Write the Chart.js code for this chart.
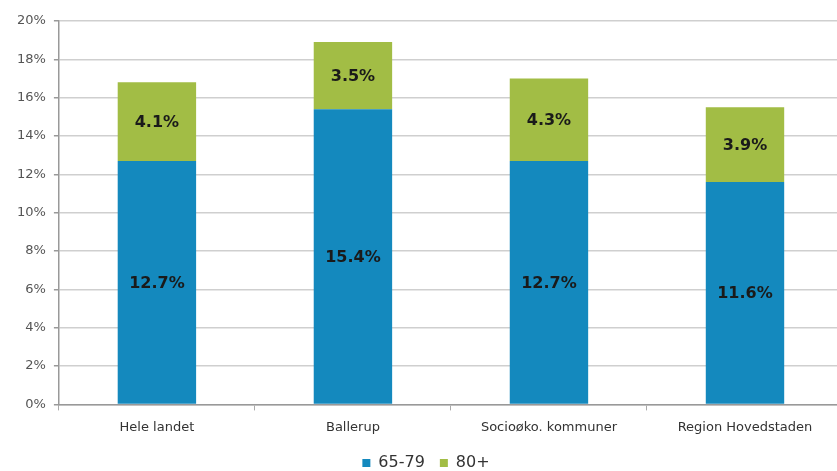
<!DOCTYPE html>
<html>
<head>
<meta charset="utf-8">
<script src="https://cdn.jsdelivr.net/npm/chart.js@4/dist/chart.umd.min.js"></script>
<style>
  html, body { margin:0; padding:0; background:#fff; overflow:hidden; }
  #wrap { width:843px; height:471px; position:relative; }
</style>
</head>
<body>
<div id="wrap"><canvas id="c"></canvas></div>
<script>
const categories = ["Hele landet", "Ballerup", "Socioøko. kommuner", "Region Hovedstaden"];
const series6579 = [12.7, 15.4, 12.7, 11.6];
const series80 = [4.1, 3.5, 4.3, 3.9];
const seriesNames = ["65-79", "80+"];
const seriesColors = ["#1489be", "#a2bd45"];
const yTicks = [0, 2, 4, 6, 8, 10, 12, 14, 16, 18, 20];

const FONT = "'DejaVu Sans', sans-serif";

const labelPlugin = {
  id: 'barLabels',
  afterDatasetsDraw(chart) {
    const ctx = chart.ctx;
    ctx.save();
    ctx.font = "bold 16px 'DejaVu Sans', sans-serif";
    ctx.fillStyle = "#1a1a1a";
    ctx.textAlign = "center";
    ctx.textBaseline = "middle";
    chart.data.datasets.forEach((ds, di) => {
      const meta = chart.getDatasetMeta(di);
      meta.data.forEach((bar, i) => {
        const yMid = (bar.y + bar.base) / 2;
        ctx.fillText(ds.data[i].toFixed(1) + "%", bar.x, yMid + 1.5);
      });
    });
    ctx.restore();
  }
};

const legendShift = {
  id: 'legendShift',
  beforeInit(chart) {
    const lg = chart.legend;
    if (lg && !lg._patched) {
      const f = lg.fit;
      lg.fit = function () { f.call(this); this.height -= 10; };
      lg._patched = true;
    }
  }
};

new Chart(document.getElementById('c'), {
  type: 'bar',
  data: {
    labels: categories,
    datasets: [
      { label: seriesNames[0], data: series6579, backgroundColor: seriesColors[0], barPercentage: 0.4, categoryPercentage: 1.0 },
      { label: seriesNames[1], data: series80, backgroundColor: seriesColors[1], barPercentage: 0.4, categoryPercentage: 1.0 }
    ]
  },
  options: {
    responsive: true,
    maintainAspectRatio: false,
    animation: false,
    layout: { padding: { top: 21, left: 9, right: 0, bottom: 0 } },
    plugins: {
      legend: {
        position: 'bottom',
        labels: {
          font: { family: FONT, size: 16 },
          color: '#333',
          boxWidth: 8,
          boxHeight: 8,
          padding: 15
        }
      },
      tooltip: { enabled: false }
    },
    scales: {
      x: {
        stacked: true,
        grid: { display: true, offset: true, drawOnChartArea: false, color: '#aaa', tickLength: 6 },
        border: { color: '#999', width: 1.5 },
        ticks: { font: { family: FONT, size: 13 }, color: '#333', padding: 9 },
        afterFit: (scale) => { scale.height -= 4; }
      },
      y: {
        stacked: true,
        min: 0, max: 20,
        afterBuildTicks: (axis) => { axis.ticks = yTicks.map(v => ({ value: v })); },
        grid: { color: '#cfcfcf', lineWidth: 1.5, tickLength: 5, tickColor: '#999' },
        border: { color: '#999', width: 1.5 },
        ticks: { font: { family: FONT, size: 13 }, color: '#555', padding: 8, callback: v => v + '%' }
      }
    }
  },
  plugins: [labelPlugin, legendShift]
});
</script>
</body>
</html>
